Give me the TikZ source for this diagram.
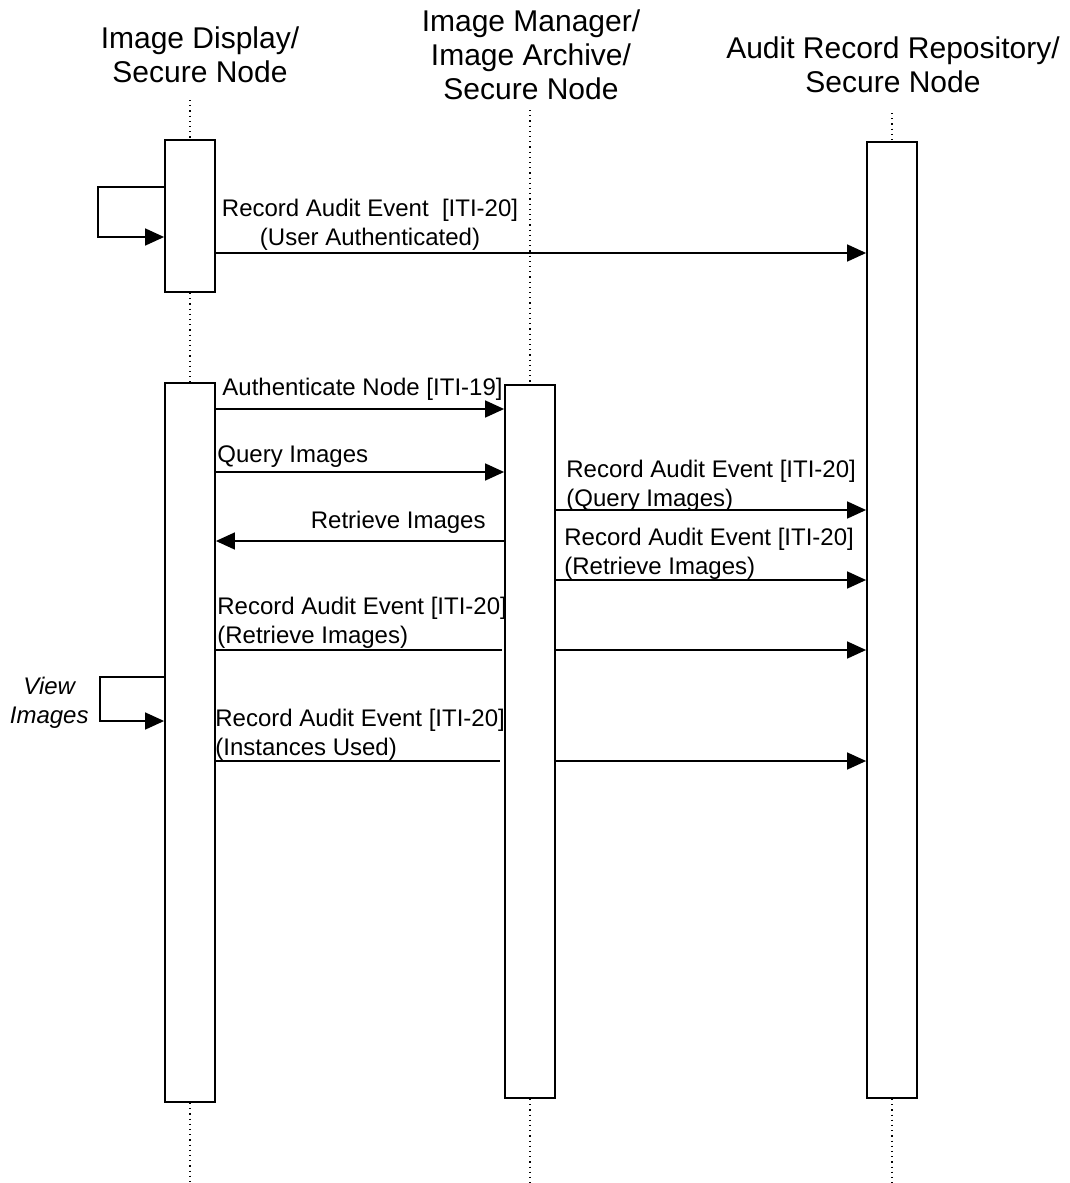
\documentclass[tikz,border=0pt]{standalone}
\usepackage{fontspec}
\setmainfont{Liberation Sans}
\usetikzlibrary{arrows.meta}
\tikzset{
  actbox/.style={draw,line width=0.9pt,fill=white,minimum width=25pt,inner sep=0pt},
  lifeline/.style={dotted,line width=0.6pt},
  msg/.style={line width=0.75pt,-{Triangle[length=9.5pt,width=8.5pt]}},
  plain/.style={line width=0.75pt},
  head/.style={align=center,font=\fontsize{15}{17}\selectfont,inner sep=0pt},
  lbl/.style={align=left,font=\fontsize{12}{14.5}\selectfont,inner sep=0pt}
}
\begin{document}
\begin{tikzpicture}[x=0.5pt,y=-0.5pt]
            \useasboundingbox (0,0) rectangle (1070,1183);
            \node[head] (hdisp) at (200,55) {Image Display/\\Secure Node};
            \node[head] (him) at (531,55) {Image Manager/\\Image Archive/\\Secure Node};
            \node[head] (harr) at (893,65) {Audit Record Repository/\\Secure Node};
            \coordinate (dtop) at (190,100);
            \coordinate (itop) at (530,110);
            \coordinate (atop) at (892,113);
            \coordinate (dbot) at (190,1183);
            \coordinate (ibot) at (530,1183);
            \coordinate (abot) at (892,1183);
            \node[actbox,minimum height=76pt] (disp1) at (190,216) {};
            \node[actbox,minimum height=359.5pt] (disp2) at (190,742.5) {};
            \node[actbox,minimum height=356.5pt] (im) at (530,741.5) {};
            \node[actbox,minimum height=478pt] (arr) at (892,620) {};
            \draw[lifeline] (dtop) -- (disp1.north);
            \draw[lifeline] (disp1.south) -- (disp2.north);
            \draw[lifeline] (disp2.south) -- (dbot);
            \draw[lifeline] (itop) -- (im.north);
            \draw[lifeline] (im.south) -- (ibot);
            \draw[lifeline] (atop) -- (arr.north);
            \draw[lifeline] (arr.south) -- (abot);
            \draw[msg] (disp1.west |- 0,187) -- ++(-66,0) |- (disp1.west |- 0,237);
            \draw[msg] (disp1.east |- 0,253) -- (arr.west |- 0,253);
            \node[lbl,align=center] (l1) at (370,225) {Record Audit Event\ \ [ITI-20]\\(User Authenticated)};
            \draw[msg] (disp2.east |- 0,409) -- (im.west |- 0,409);
            \node[lbl,anchor=west] (l2) at (222,389) {Authenticate Node [ITI-19]};
            \draw[msg] (disp2.east |- 0,472) -- (im.west |- 0,472);
            \node[lbl,anchor=west] (l3) at (217,457) {Query Images};
            \draw[msg] (im.west |- 0,541) -- (disp2.east |- 0,541);
            \node[lbl,anchor=east] (l4) at (486,522) {Retrieve Images};
            \draw[msg] (im.east |- 0,510) -- (arr.west |- 0,510);
            \node[lbl,anchor=west] (l5) at (566,486) {Record Audit Event [ITI-20]\\(Query Images)};
            \draw[msg] (im.east |- 0,580) -- (arr.west |- 0,580);
            \node[lbl,anchor=west] (l6) at (564,554) {Record Audit Event [ITI-20]\\(Retrieve Images)};
            \draw[plain] (disp2.east |- 0,650) -- ([xshift=-1pt]im.west |- 0,650);
            \draw[msg] (im.east |- 0,650) -- (arr.west |- 0,650);
            \node[lbl,anchor=west] (l7) at (217,623) {Record Audit Event [ITI-20]\\(Retrieve Images)};
            \draw[msg] (disp2.west |- 0,677) -- ++(-64,0) |- (disp2.west |- 0,721);
            \node[lbl,anchor=east,align=center,font=\fontsize{12}{14.5}\selectfont\itshape] (l8) at (89,703) {View\\Images};
            \draw[plain] (disp2.east |- 0,761) -- ([xshift=-2pt]im.west |- 0,761);
            \draw[msg] ([xshift=-1pt]im.east |- 0,761) -- (arr.west |- 0,761);
            \node[lbl,anchor=west] (l9) at (215,735) {Record Audit Event [ITI-20]\\(Instances Used)};
        \end{tikzpicture}
\end{document}
